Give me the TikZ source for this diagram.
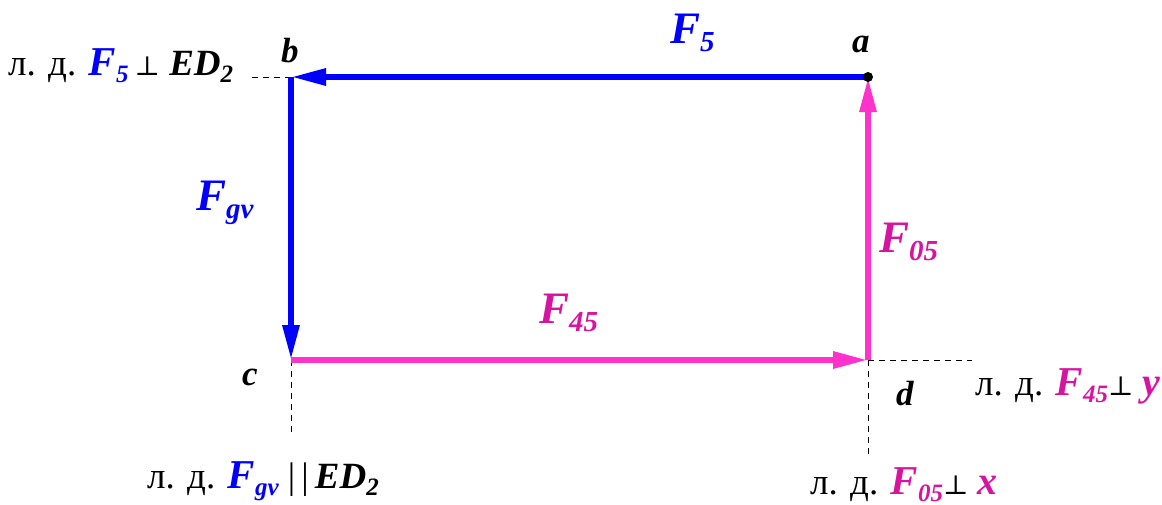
\documentclass[tikz,border=0pt]{standalone}
\usepackage{fontspec}
\setmainfont{Liberation Serif}
\newfontfamily\symfont{DejaVu Serif}
\usepackage{tikz}
\usetikzlibrary{arrows.meta,positioning}
\definecolor{vecblue}{RGB}{0,0,255}
\definecolor{vecpink}{RGB}{255,51,204}
\definecolor{txtpink}{RGB}{215,20,160}

\newcommand{\bi}[1]{\textbf{\textit{#1}}}
% subscripts: small one for the notes, big one for the vector names
\newcommand{\vsub}[1]{\raisebox{-7pt}{\fontsize{25}{27}\selectfont\bfseries\itshape #1}}
\newcommand{\Vsub}[1]{\raisebox{-8pt}{\fontsize{29}{31}\selectfont\bfseries\itshape #1}}
\newcommand{\perpsym}{{\symfont\fontsize{27}{29}\selectfont ⊥}}
\newcommand{\bigF}{\fontsize{41}{44}\selectfont\bi{F}}
\newcommand{\edtxt}{{\fontsize{37}{40}\selectfont\bi{ED}}\vsub{2}}

\begin{document}
\begin{tikzpicture}[x=1pt,y=-1pt,
    vec/.style={draw=#1,line width=6pt,-{Triangle[length=35pt,width=16pt]}},
    guide/.style={line width=1pt,dash pattern=on 6pt off 5pt},
    pt/.style={font=\fontsize{35}{38}\selectfont\bfseries\itshape,
               anchor=base west,inner sep=0pt},
    vtxt/.style={text=#1,font=\fontsize{45}{48}\selectfont\bfseries\itshape,
                 anchor=base west,inner sep=0pt},
    note/.style={font=\fontsize{37}{40}\selectfont,anchor=base west,inner sep=0pt},
]
\useasboundingbox (0,0) rectangle (1162,504);

% corners
\coordinate (a) at (868,77);
\coordinate (b) at (291,77);
\coordinate (c) at (291,360);
\coordinate (d) at (868,360);

% ends of the guide lines
\coordinate (bl) at (250,77);
\coordinate (cs) at (291,434);
\coordinate (ds) at (868,456);
\coordinate (dr) at (972,360);

\draw[guide] (b) -- (bl);
\draw[guide] (c) -- (cs);
\draw[guide] (d) -- (ds);
\draw[guide] (d) -- (dr);

% vectors
\draw[vec=vecblue] (a) -- (b);
\draw[vec=vecblue] (b) -- (c);
\draw[vec=vecpink] (c) -- (d);
\draw[vec=vecpink] (d) -- (a);
\fill (a) circle (5);

% corner letters
\node[pt] (la) at (852,52)  {a};
\node[pt] (lb) at (281,62)  {b};
\node[pt] (lc) at (242,385) {c};
\node[pt] (ld) at (896,405) {d};

% vector names
\node[vtxt=vecblue] (f5)  at (670,43)  {F\Vsub{5}};
\node[vtxt=vecblue] (fgv) at (196,210) {F\Vsub{gv}};
\node[vtxt=txtpink] (f45) at (539,323) {F\Vsub{45}};
\node[vtxt=txtpink] (f05) at (879,252) {F\Vsub{05}};

% lines of action
\node[note] (n1) at (8,75)
  {л. д. \textcolor{vecblue}{\bigF\vsub{5}}\,\perpsym\ \edtxt};
\node[note] (n2) at (975,395)
  {л. д. \textcolor{txtpink}{\bigF\vsub{45}}\perpsym\
   \textcolor{txtpink}{\fontsize{40}{44}\selectfont\bi{y}}};
\node[note] (n3) at (147,488)
  {л. д. \textcolor{vecblue}{\bigF\vsub{gv}}\ |\,|\,\edtxt};
\node[note] (n4) at (810,494)
  {л. д. \textcolor{txtpink}{\bigF\vsub{05}}\perpsym\
   \textcolor{txtpink}{\fontsize{40}{44}\selectfont\bi{x}}};
\end{tikzpicture}
\end{document}
